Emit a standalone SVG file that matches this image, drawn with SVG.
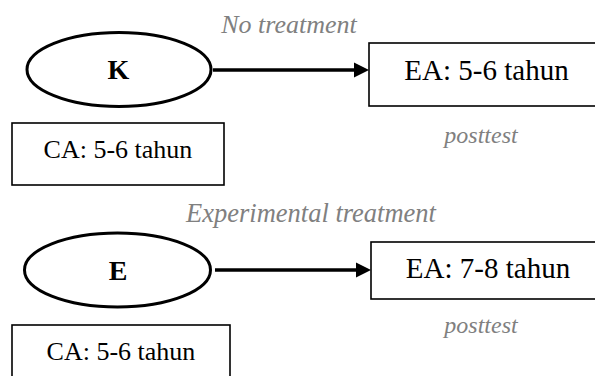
<svg xmlns="http://www.w3.org/2000/svg" width="595" height="376" viewBox="0 0 595 376">
<style>
.ell{fill:#fff;stroke:#000;stroke-width:3}
.box{fill:#fff;stroke:#000;stroke-width:1.6}
.lbl{font-family:"Liberation Serif","Times New Roman",serif;fill:#000;text-anchor:middle}
.big{font-weight:bold;font-size:28px}
.ca{font-size:26px}
.ea{font-size:29px}
.note{font-family:"Liberation Serif","Times New Roman",serif;font-style:italic;fill:#808080;text-anchor:middle}
.conn{stroke:#000;stroke-width:3.5;fill:none}
</style>
<rect width="595" height="376" fill="#fff"/>
<g id="connectors">
<line class="conn" x1="213" y1="70" x2="357" y2="70"/>
<polygon points="354,62.5 369,70 354,77.5" fill="#000"/>
<line class="conn" x1="215" y1="270" x2="359" y2="270"/>
<polygon points="356,262.5 371,270 356,277.5" fill="#000"/>
</g>
<g id="label-no-treatment"><text class="note" x="289" y="33" font-size="26">No treatment</text></g>
<g id="node-K">
<ellipse class="ell" cx="119" cy="69.5" rx="92" ry="37"/>
<text class="lbl big" x="118.5" y="78.5">K</text>
</g>
<g id="node-CA1">
<rect class="box" x="12" y="123" width="212" height="62"/>
<text class="lbl ca" x="118" y="158">CA: 5-6 tahun</text>
</g>
<g id="node-EA1">
<rect class="box" x="369" y="43" width="240" height="63"/>
<text class="lbl ea" x="486.5" y="80">EA: 5-6 tahun</text>
</g>
<g id="label-posttest1"><text class="note" x="481" y="143" font-size="24">posttest</text></g>
<g id="label-exp-treatment"><text class="note" x="311" y="222" font-size="26.5">Experimental treatment</text></g>
<g id="node-E">
<ellipse class="ell" cx="117.5" cy="270" rx="93" ry="37"/>
<text class="lbl big" x="118" y="279.5">E</text>
</g>
<g id="node-EA2">
<rect class="box" x="371" y="242" width="240" height="57"/>
<text class="lbl ea" x="488" y="278">EA: 7-8 tahun</text>
</g>
<g id="label-posttest2"><text class="note" x="481" y="333" font-size="24">posttest</text></g>
<g id="node-CA2">
<rect class="box" x="12" y="325" width="218" height="70"/>
<text class="lbl ca" x="121" y="360">CA: 5-6 tahun</text>
</g>
</svg>
